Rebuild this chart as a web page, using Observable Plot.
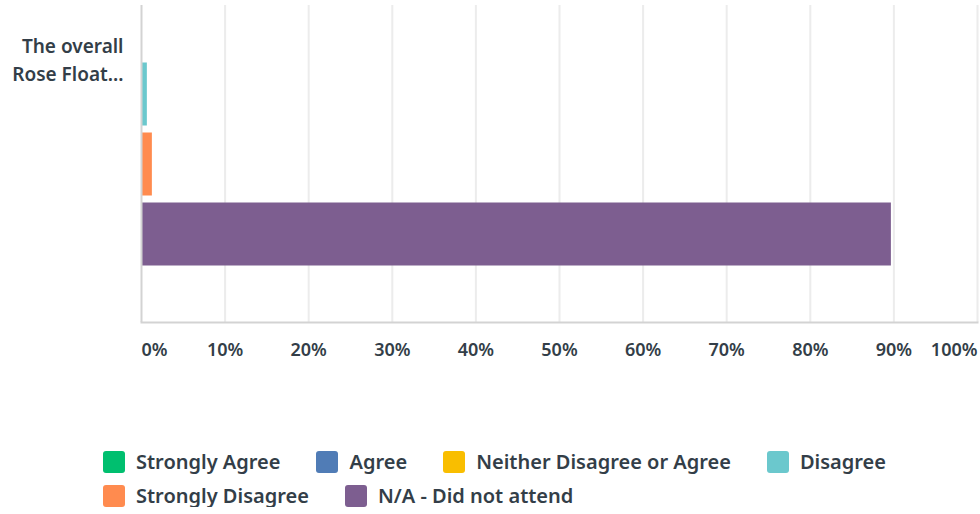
<!DOCTYPE html>
<html>
<head>
<meta charset="utf-8">
<script src="https://cdn.jsdelivr.net/npm/d3@7"></script>
<script src="https://cdn.jsdelivr.net/npm/@observablehq/plot@0.6"></script>
<style>
  body { margin: 0; background: #fff; font-family: "Noto Sans", sans-serif; }
  #legend { display: flex; flex-wrap: wrap; width: 830px; padding-left: 103px; margin-top: 61px; row-gap: 12px; }
  .item { display: flex; align-items: center; margin-right: 36px; font-size: 20px; font-weight: 600; color: #333e48; line-height: 22px; }
  .sw { width: 22px; height: 22px; border-radius: 3px; margin-right: 11px; }
</style>
</head>
<body>
<div id="chart"></div>
<div id="legend"></div>
<script>
const question = ["The overall Rose Float..."];
const answers = ["Strongly Agree", "Agree", "Neither Disagree or Agree", "Disagree", "Strongly Disagree", "N/A - Did not attend"];
const percents = [0, 0, 0, 0.7, 1.3, 89.7];
const colors = ["#00bf6f", "#507cb6", "#f9be00", "#6bc8cd", "#ff8b4f", "#7d5e90"];
const xTicks = [0, 10, 20, 30, 40, 50, 60, 70, 80, 90, 100];
const xTickLabels = xTicks.map(t => t + "%");

const data = answers.map((a, i) => ({answer: a, value: percents[i], color: colors[i]}));
const ticks = xTicks.map((t, i) => ({t, label: xTickLabels[i]}));
const textStyle = {fill: "#333e48", fontSize: 18, fontWeight: 600, fontFamily: "Noto Sans"};

const chart = Plot.plot({
  width: 980,
  height: 390,
  marginLeft: 141,
  marginRight: 3,
  marginTop: 5,
  marginBottom: 68,
  style: {background: "#fff", overflow: "visible"},
  x: {domain: [0, 100], axis: null},
  y: {type: "band", domain: answers, range: [-151.5, 268.5], padding: 0, axis: null},
  marks: [
    Plot.ruleX(xTicks.slice(1), {stroke: "#ececec", strokeWidth: 2}),
    Plot.barX(data, {x: "value", y: "answer", fill: "color", insetTop: 3.5, insetBottom: 3.5}),
    Plot.ruleX([0], {stroke: "#d3d3d3", strokeWidth: 2}),
    Plot.frame({anchor: "bottom", stroke: "#d3d3d3", strokeWidth: 2}),
    Plot.text(ticks.slice(1, -1), {x: "t", text: "label", frameAnchor: "bottom", dy: 33, textAnchor: "middle", ...textStyle}),
    Plot.text(ticks.slice(0, 1), {x: "t", text: "label", frameAnchor: "bottom", dy: 33, textAnchor: "start", ...textStyle}),
    Plot.text(ticks.slice(-1), {x: "t", text: "label", frameAnchor: "bottom", dy: 33, textAnchor: "end", ...textStyle}),
    Plot.text(question, {frameAnchor: "top-left", dx: -18, dy: 28, textAnchor: "end", lineWidth: 7, lineHeight: 1.45, ...textStyle, fontSize: 19})
  ]
});
document.getElementById("chart").appendChild(chart);

const legend = document.getElementById("legend");
answers.forEach((a, i) => {
  const item = document.createElement("div");
  item.className = "item";
  const sw = document.createElement("div");
  sw.className = "sw";
  sw.style.background = colors[i];
  const label = document.createElement("span");
  label.textContent = a;
  item.appendChild(sw);
  item.appendChild(label);
  legend.appendChild(item);
});
</script>
</body>
</html>
